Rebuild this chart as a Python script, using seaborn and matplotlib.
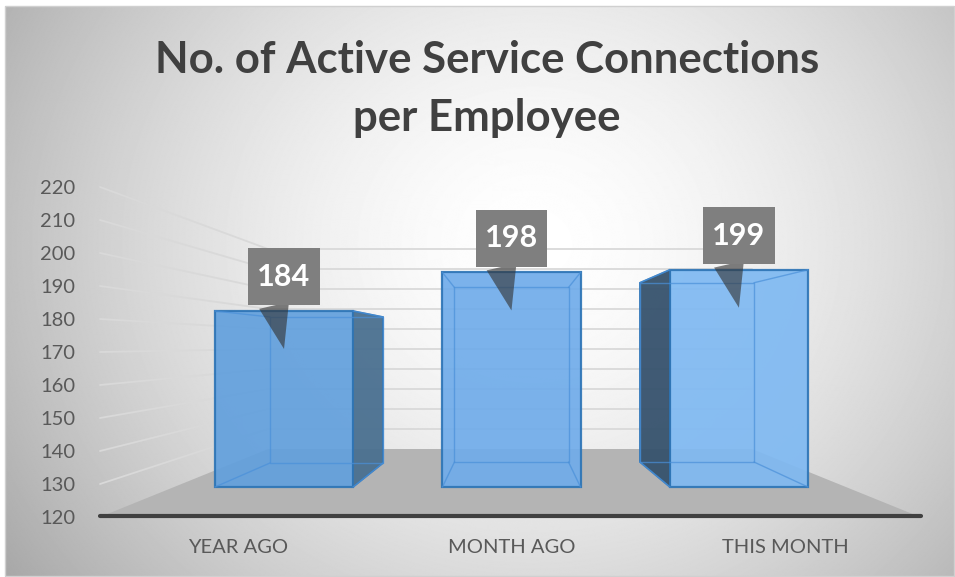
import numpy as np
import matplotlib
matplotlib.use("Agg")
import matplotlib.pyplot as plt
import seaborn as sns
from matplotlib.patches import Polygon, Rectangle

# ---------------- data ----------------
categories = ["YEAR AGO", "MONTH AGO", "THIS MONTH"]
values = [184, 198, 199]
y_ticks = list(range(120, 221, 10))
base_value = 120

# ---------------- style ----------------
bar_colors = ["#62a0dd", "#70acea", "#7fb9f2"]
side_colors = ["#4a7090", "#4a7090", "#36526d"]
edge_color = "#2e75b6"
# perspective offsets of the back face, image pixels (left, right, top, bottom)
depth = [(55, 30, 6, -24), (12, -12, 15, -25), (-30, -54, 13, -25)]

W, H = 955, 577
FLOOR_Y, BACK_Y = 517, 449
FRONT_PX, BACK_PX = 3.3, 2.0
WALL_L, WALL_R = 268, 752

sns.set_theme(style="white")
plt.rcParams["font.family"] = ["Lato", "DejaVu Sans"]

fig = plt.figure(figsize=(9.55, 5.77), dpi=100)
fig.patch.set_facecolor("white")

# background, walls, floor (pixel coordinates)
bg = fig.add_axes([0, 0, 1, 1], zorder=0)
bg.set_xlim(0, W)
bg.set_ylim(H, 0)
bg.axis("off")
yy, xx = np.mgrid[0:H, 0:W]
r = np.sqrt(((xx - 530) / 520.0) ** 2 + ((yy - 240) / 470.0) ** 2)
shade = 255 - 62 * np.clip(r, 0, 1.3) ** 1.6
bg.imshow(shade, cmap="gray", vmin=0, vmax=255, extent=[5, W, H, 6], aspect="auto")
bg.add_patch(Rectangle((5, 6), W - 6, H - 7, fill=False, ec="#d0d0d0", lw=1))

for v in y_ticks[1:]:
    yf = FLOOR_Y - (v - base_value) * FRONT_PX
    yb = BACK_Y - (v - base_value) * BACK_PX
    bg.plot([100, WALL_L, WALL_R], [yf, yb, yb], color="#d9d9d9", lw=1.3)

bg.fill([100, 920, WALL_R, WALL_L], [FLOOR_Y, FLOOR_Y, BACK_Y, BACK_Y], color="#b4b4b4", lw=0)
bg.plot([100, 921], [FLOOR_Y - 1, FLOOR_Y - 1], color="#404040", lw=3, solid_capstyle="round")

# axis with tick labels
rect = [100 / W, (H - FLOOR_Y) / H, 820 / W, 330 / H]
ax = fig.add_axes(rect, zorder=1)
ax.patch.set_alpha(0)
ax.set_ylim(120, 220)
ax.set_yticks(y_ticks)
ax.set_xlim(-0.505, 2.494)
ax.set_xticks(range(len(categories)))
ax.set_xticklabels(categories)
sns.despine(ax=ax, left=True, bottom=True)
ax.tick_params(axis="y", length=0, labelsize=14.5, colors="#595959", pad=18)
ax.tick_params(axis="x", length=0, labelsize=14.5, colors="#595959", pad=16)
ax.grid(False)

# bars
bax = fig.add_axes(rect, zorder=2)
bax.patch.set_alpha(0)
sns.barplot(x=categories, y=values, hue=categories, palette=bar_colors, ax=bax,
            width=0.607, saturation=1, edgecolor=edge_color, linewidth=1.6,
            alpha=0.92, legend=False)
bax.set_xlim(-0.809, 2.796)
bax.set_ylim(109.09, 229.09)
bax.axis("off")


def shift(pt, dx, dy):
    px, py = bax.transData.transform(pt)
    return bax.transData.inverted().transform((px + dx, py - dy))


for i, p in enumerate(bax.patches):
    p.set_y(base_value)
    p.set_height(values[i] - base_value)
    x0, x1 = p.get_x(), p.get_x() + p.get_width()
    y0, y1 = base_value, values[i]
    dl, dr, dt, db = depth[i]
    flt, frt, flb, frb = (x0, y1), (x1, y1), (x0, y0), (x1, y0)
    blt, brt = shift(flt, dl, dt), shift(frt, dr, dt)
    blb, brb = shift(flb, dl, db), shift(frb, dr, db)
    if dr > 0:
        bax.add_patch(Polygon([frt, brt, brb, frb], closed=True, fc=side_colors[i],
                              ec=edge_color, lw=1.2, alpha=0.95, zorder=3))
    if dl < 0:
        bax.add_patch(Polygon([flt, blt, blb, flb], closed=True, fc=side_colors[i],
                              ec=edge_color, lw=1.2, alpha=0.95, zorder=3))
    inner = [blt, brt, brb, blb, blt]
    bax.plot([q[0] for q in inner], [q[1] for q in inner], color="#4a90d9", lw=1, alpha=0.7, zorder=4)
    for a, b in [(flt, blt), (frt, brt), (flb, blb), (frb, brb)]:
        bax.plot([a[0], b[0]], [a[1], b[1]], color="#4a90d9", lw=1, alpha=0.7, zorder=4)

# data label callouts
tip_drop = 38 / 2.75
for i, v in enumerate(values):
    bax.annotate(str(v), xy=(i, v - tip_drop), xytext=(0, 52), textcoords="offset points",
                 ha="center", va="center", fontsize=22, fontweight="bold", color="white",
                 bbox=dict(boxstyle="square,pad=0.3", fc="#7f7f7f", ec="none",
                           mutation_aspect=1.6),
                 arrowprops=dict(arrowstyle="wedge,tail_width=1.1", fc="#333333", ec="none",
                                 alpha=0.62, relpos=(0.25, 0), mutation_scale=20,
                                 shrinkA=0, shrinkB=0),
                 zorder=6)

# title
fig.text(487 / W, 1 - 40 / H, "No. of Active Service Connections\nper Employee",
         ha="center", va="top", fontsize=31.5, fontweight="bold", color="#404040",
         linespacing=1.55)

fig.savefig("out.png", dpi=100)
